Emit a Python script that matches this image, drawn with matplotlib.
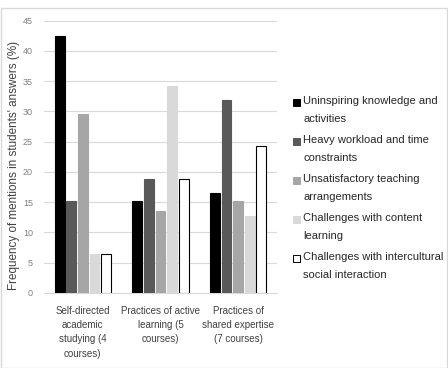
import numpy as np
import matplotlib.pyplot as plt
from matplotlib.patches import Rectangle

plt.rcParams['font.family'] = ['Liberation Sans', 'DejaVu Sans']

groups = ["Self-directed\nacademic\nstudying (4\ncourses)",
          "Practices of active\nlearning (5\ncourses)",
          "Practices of\nshared expertise\n(7 courses)"]
series = ["Uninspiring knowledge and\nactivities",
          "Heavy workload and time\nconstraints",
          "Unsatisfactory teaching\narrangements",
          "Challenges with content\nlearning",
          "Challenges with intercultural\nsocial interaction"]
uninspiring = [42.5, 15.2, 16.5]
workload = [15.2, 18.8, 31.9]
teaching = [29.6, 13.6, 15.2]
content = [6.5, 34.2, 12.7]
intercultural = [6.5, 18.8, 24.3]
values = [uninspiring, workload, teaching, content, intercultural]
colors = ['#000000', '#595959', '#a6a6a6', '#d9d9d9', '#ffffff']
yticks = [0, 5, 10, 15, 20, 25, 30, 35, 40, 45]

fig = plt.figure(figsize=(4.48, 3.68), dpi=100)
ax = fig.add_axes([44/448, 1-293/368, 233/448, (293-20.7)/368])

x = np.arange(len(groups))
pitch = 0.15
width = 0.128
for i, (vals, c) in enumerate(zip(values, colors)):
    ax.bar(x + (i - 2) * pitch, vals, width, color=c,
           edgecolor='black' if c == '#ffffff' else c, linewidth=0.8, zorder=3)

ax.set_xlim(-0.5, 2.5)
ax.set_ylim(0, 45)
ax.set_yticks(yticks)
ax.set_xticks(x)
ax.set_xticklabels(groups, fontsize=7, color='#404040', linespacing=1.55)
ax.tick_params(axis='y', labelsize=6.5, labelcolor='#808080', length=0, pad=8)
ax.tick_params(axis='x', length=0, pad=9)
ax.grid(axis='y', color='#d9d9d9', linewidth=0.8, zorder=0)
for s in ['top', 'right', 'left']:
    ax.spines[s].set_visible(False)
ax.spines['bottom'].set_color('#d9d9d9')
ax.set_ylabel("Frequency of mentions in students' answers (%)", fontsize=8.4,
              color='#404040', labelpad=6)
ax.yaxis.set_label_coords(-0.105, 0.47)

# legend drawn by hand so the swatch sits on the first text line
y0 = 102
for i, (lab, c) in enumerate(zip(series, colors)):
    yy = y0 + i * 39
    fig.patches.append(Rectangle((293/448, 1-(yy+4)/368), 7/448, 7/368,
                                 transform=fig.transFigure, facecolor=c,
                                 edgecolor='black' if c == '#ffffff' else c,
                                 linewidth=0.7))
    fig.text(303/448, 1-(yy-6)/368, lab, fontsize=8, color='#262626',
             va='top', ha='left', linespacing=1.95)

fig.patches.append(Rectangle((0.5/448, 0.5/368), 446.5/448, 360/368,
                             transform=fig.transFigure, facecolor='none',
                             edgecolor='#d9d9d9', linewidth=1))

fig.savefig('out.png', dpi=100)
